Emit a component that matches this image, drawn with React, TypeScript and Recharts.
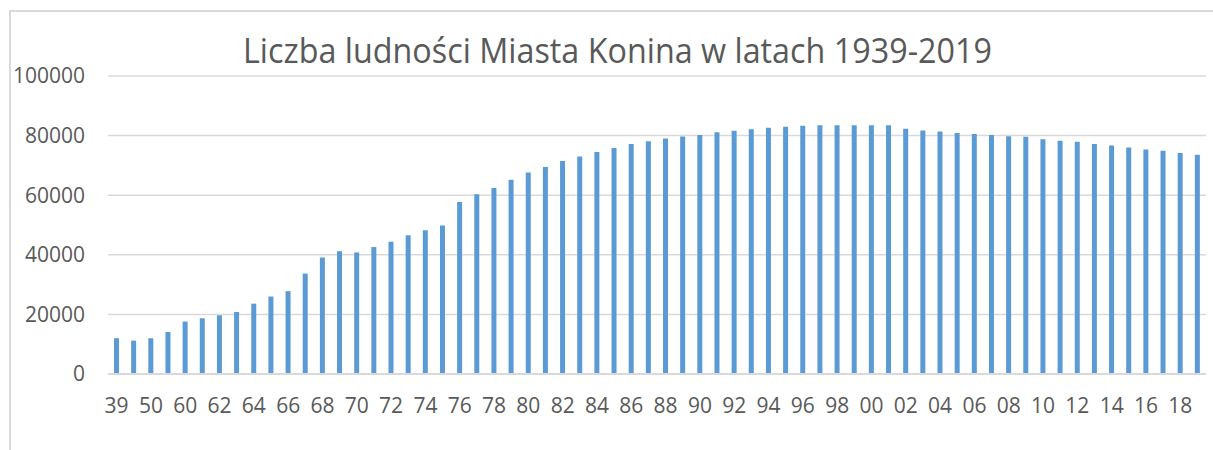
import {Bar, BarChart, CartesianGrid, XAxis, YAxis} from 'recharts';

const years = [
  '39', '46', '50', '55', '60', '61', '62', '63', '64', '65', '66', '67', '68', '69',
  '70', '71', '72', '73', '74', '75', '76', '77', '78', '79', '80', '81', '82', '83',
  '84', '85', '86', '87', '88', '89', '90', '91', '92', '93', '94', '95', '96', '97',
  '98', '99', '00', '01', '02', '03', '04', '05', '06', '07', '08', '09', '10', '11',
  '12', '13', '14', '15', '16', '17', '18', '19',
];

const population = [
  12000, 11200, 12000, 14100, 17600, 18700, 19700, 20800, 23600, 26000, 27800, 33700, 39100, 41200,
  40800, 42600, 44400, 46600, 48200, 49800, 57700, 60300, 62400, 65200, 67600, 69500, 71500, 73000,
  74500, 75800, 77200, 78100, 79000, 79700, 80200, 81100, 81600, 82100, 82600, 83000, 83300, 83500,
  83500, 83500, 83500, 83500, 82300, 81700, 81400, 80900, 80500, 80200, 79800, 79600, 78800, 78300,
  77900, 77200, 76700, 76000, 75300, 74900, 74200, 73600,
];

const yTicks = [0, 20000, 40000, 60000, 80000, 100000];

const title = 'Liczba ludności Miasta Konina w latach 1939-2019';

const data = years.map((year, i) => ({year, value: population[i]}));

const font = '"Open Sans", "Liberation Sans", sans-serif';
const textColor = '#595959';
const lineColor = '#d9d9d9';

export default function App() {
  return (
    <div style={{position: 'absolute', left: 0, top: 0, width: 1213, height: 450, background: '#fff'}}>
      <div
        style={{
          position: 'absolute',
          left: 9,
          top: 10,
          width: 1204,
          height: 440,
          borderLeft: `2px solid ${lineColor}`,
          borderTop: `2px solid ${lineColor}`,
        }}
      />
      <BarChart
        width={1213}
        height={450}
        data={data}
        margin={{top: 76, right: 7, bottom: 46, left: 0}}
        style={{position: 'absolute', left: 0, top: 0, fontFamily: font}}
      >
        <CartesianGrid horizontal vertical={false} stroke={lineColor} strokeWidth={1.5} />
        <XAxis
          dataKey="year"
          interval={1}
          axisLine={{stroke: lineColor, strokeWidth: 2}}
          tickLine={false}
          tickSize={6}
          tickMargin={18}
          height={30}
          tick={{fill: textColor, fontSize: 21, fontFamily: font}}
        />
        <YAxis
          width={108}
          domain={[0, 100000]}
          ticks={yTicks}
          interval={0}
          axisLine={false}
          tickLine={false}
          tickSize={6}
          tickMargin={17}
          tick={{fill: textColor, fontSize: 21, fontFamily: font}}
        />
        <Bar dataKey="value" fill="#5B9BD5" barSize={5} isAnimationActive={false} />
      </BarChart>
      <svg width={1213} height={450} style={{position: 'absolute', left: 0, top: 0, pointerEvents: 'none'}}>
        <text
          x={617.5}
          y={63}
          textAnchor="middle"
          fill={textColor}
          fontSize={35}
          fontFamily={font}
          textLength={749}
          lengthAdjust="spacingAndGlyphs"
        >
          {title}
        </text>
      </svg>
    </div>
  );
}
